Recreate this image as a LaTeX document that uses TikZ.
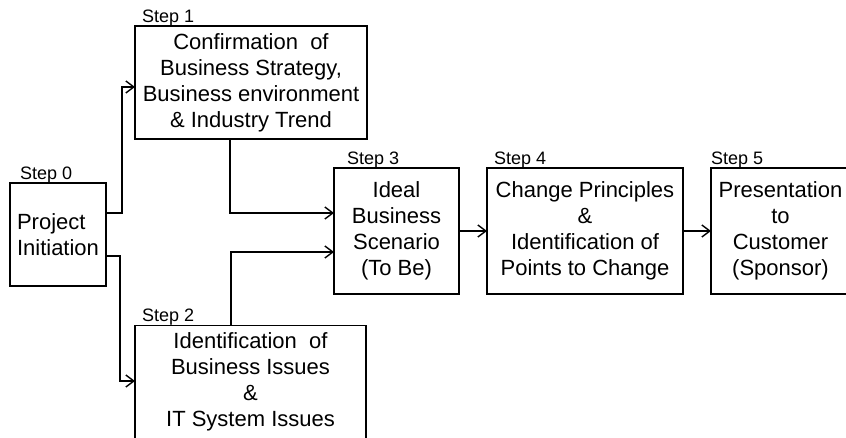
\documentclass[tikz,border=0pt]{standalone}
\usepackage{fontspec}
\setmainfont{Liberation Sans}
\usetikzlibrary{chains,positioning,arrows.meta}
\newcommand{\boxfont}{\fontsize{22}{26}\selectfont}
\newcommand{\stepfont}{\fontsize{18}{21}\selectfont}

\begin{document}
\begin{tikzpicture}[
x=1pt,y=1pt,
stepbox/.style={
  draw,
  line width=1.6pt,
  inner sep=0pt,
  outer sep=0pt,
  align=center,
  font=\boxfont
},
steplab/.style={
  anchor=south west,
  inner sep=0pt,
  font=\stepfont
},
conn/.style={
  line width=1.4pt,
  -{Straight Barb[length=8pt,width=12pt]}
},
start chain=1 going right,node distance=28pt
]
\useasboundingbox (0,0) rectangle (846,437);

\node[stepbox,align=left,minimum width=96pt,minimum height=103pt] at (58,202.5)
  (s0) {Project\\Initiation};
\node[stepbox,minimum width=232pt,minimum height=113pt] at (251,354.5)
  (s1) {Confirmation\ \ of\\Business Strategy,\\Business environment\\\& Industry Trend};
\node[stepbox,minimum width=231pt,minimum height=113pt] at (250.5,55)
  (s2) {Identification\ \ of\\Business Issues\\\&\\IT System Issues};

% steps 3 to 5 in a row
\node[on chain=1,stepbox,minimum width=125pt,minimum height=126pt] at (396.5,206)
  (s3) {Ideal\\Business\\Scenario\\(To Be)};
\node[on chain=1,stepbox,join=by conn,minimum width=196pt,minimum height=126pt]
  (s4) {Change Principles\\\&\\Identification of\\Points to Change};
\node[on chain=1,stepbox,join=by conn,minimum width=139pt,minimum height=126pt]
  (s5) {Presentation\\to\\Customer\\(Sponsor)};

\node[steplab] (l0) at ([xshift=10pt]s0.north west) {Step 0};
\node[steplab] (l1) at ([xshift=7pt]s1.north west) {Step 1};
\node[steplab] (l2) at ([xshift=7pt]s2.north west) {Step 2};
\node[steplab] (l3) at ([xshift=13pt]s3.north west) {Step 3};
\node[steplab] (l4) at ([xshift=7pt]s4.north west) {Step 4};
\node[steplab] (l5) at (s5.north west) {Step 5};

\draw[conn] ([yshift=21.5pt]s0.east) -- ++(16pt,0) |- ([yshift=-4.5pt]s1.west);
\draw[conn] ([yshift=-21.5pt]s0.east) -- ++(14pt,0) |- ([yshift=1pt]s2.west);
\draw[conn] ([xshift=-21pt]s1.south) |- ([yshift=18pt]s3.west);
\draw[conn] ([xshift=-19.5pt]s2.north) |- ([yshift=-21pt]s3.west);
\end{tikzpicture}
\end{document}
